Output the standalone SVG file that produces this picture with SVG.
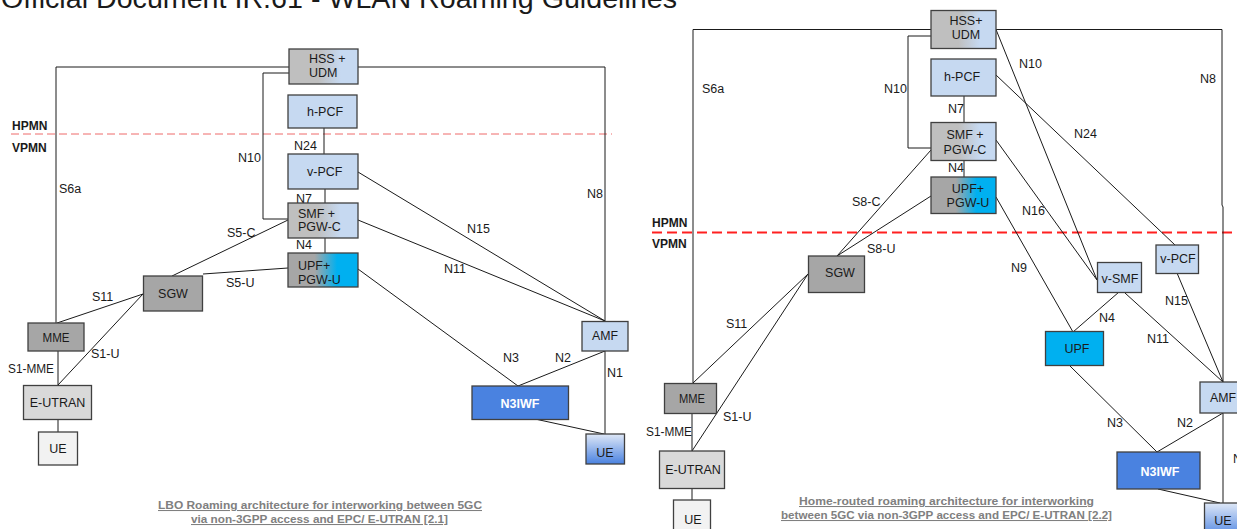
<svg xmlns="http://www.w3.org/2000/svg" width="1237" height="529" viewBox="0 0 1237 529">
  <style>
    .ln { fill: none; stroke: #1a1a1a; stroke-width: 1; }
    .box { stroke: #404040; stroke-width: 1.3; }
    .t { font-family: "Liberation Sans", Arial, sans-serif; font-size: 12.5px; fill: #1a1a1a; }
    .c { text-anchor: middle; }
    .lbl { font-family: "Liberation Sans", Arial, sans-serif; font-size: 12.5px; fill: #1a1a1a; }
    .net { font-family: "Liberation Sans", Arial, sans-serif; font-size: 12px; font-weight: bold; fill: #1a1a1a; }
    .wt { font-family: "Liberation Sans", Arial, sans-serif; font-size: 12.5px; font-weight: bold; fill: #ffffff; text-anchor: middle; }
    .cap { font-family: "Liberation Sans", Arial, sans-serif; font-size: 10.5px; font-weight: bold; fill: #808080; text-decoration: underline; }
    .grey { fill: #a6a6a6; }
    .lgrey { fill: #d9d9d9; }
    .vlgrey { fill: #f2f2f2; }
    .blue { fill: #c6d9f1; }
    .cyan { fill: #00b0f0; }
    .n3 { fill: #4a82e0; }
  </style>
  <defs>
    <linearGradient id="gGreyBlue" x1="0" y1="0" x2="1" y2="0">
      <stop offset="0" stop-color="#bfbfbf"/>
      <stop offset="0.42" stop-color="#bfbfbf"/>
      <stop offset="0.75" stop-color="#c6d9f1"/>
      <stop offset="1" stop-color="#c6d9f1"/>
    </linearGradient>
    <linearGradient id="gGreyCyan" x1="0" y1="0" x2="1" y2="0">
      <stop offset="0" stop-color="#a6a6a6"/>
      <stop offset="0.38" stop-color="#a6a6a6"/>
      <stop offset="0.7" stop-color="#00b0f0"/>
      <stop offset="1" stop-color="#00b0f0"/>
    </linearGradient>
    <linearGradient id="gUE" x1="0" y1="0" x2="0" y2="1">
      <stop offset="0" stop-color="#dfe8f7"/>
      <stop offset="1" stop-color="#4a82e0"/>
    </linearGradient>
  </defs>

  <rect width="1237" height="529" fill="#ffffff"/>

  <!-- page heading, mostly above the top edge -->
  <text x="1" y="8" font-family="Liberation Sans, Arial, sans-serif" font-size="28" fill="#1a1a1a" textLength="676" lengthAdjust="spacingAndGlyphs">Official Document IR.61 - WLAN Roaming Guidelines</text>

  <!-- network boundaries -->
  <g id="boundaries">
    <line x1="11" y1="134" x2="612" y2="134" stroke="#ee6a6a" stroke-width="1" stroke-dasharray="8 4"/>
    <text class="net" x="12" y="130">HPMN</text>
    <text class="net" x="12" y="152">VPMN</text>
    <line x1="652" y1="232.5" x2="1237" y2="232.5" stroke="#ff2020" stroke-width="2" stroke-dasharray="10 5"/>
    <text class="net" x="652" y="227">HPMN</text>
    <text class="net" x="652" y="248">VPMN</text>
  </g>

  <g id="connectors">
    <!-- LBO roaming -->
    <polyline class="ln" points="289,67 56,67 56,323"/>
    <polyline class="ln" points="358,67 605,67 605,321"/>
    <polyline class="ln" points="289,73 263,73 263,219 288,219"/>
    <line class="ln" x1="324" y1="128" x2="324" y2="154"/>
    <line class="ln" x1="325" y1="189" x2="325" y2="203"/>
    <line class="ln" x1="325" y1="238" x2="325" y2="253"/>
    <line class="ln" x1="358" y1="172" x2="605" y2="321"/>
    <line class="ln" x1="358" y1="220" x2="605" y2="321"/>
    <line class="ln" x1="358" y1="269" x2="518" y2="386"/>
    <line class="ln" x1="288" y1="220" x2="172" y2="276"/>
    <line class="ln" x1="288" y1="268" x2="203" y2="274"/>
    <line class="ln" x1="57" y1="323" x2="143" y2="294"/>
    <line class="ln" x1="58" y1="385" x2="143" y2="294"/>
    <line class="ln" x1="58" y1="351" x2="58" y2="385"/>
    <line class="ln" x1="58" y1="419" x2="58" y2="432"/>
    <line class="ln" x1="605" y1="351" x2="518" y2="386"/>
    <line class="ln" x1="605" y1="351" x2="605" y2="434"/>
    <line class="ln" x1="535" y1="419" x2="604" y2="434"/>

    <text class="lbl" x="59" y="193">S6a</text>
    <text class="lbl" x="238" y="162">N10</text>
    <text class="lbl" x="294" y="150">N24</text>
    <text class="lbl" x="296" y="203">N7</text>
    <text class="lbl" x="296" y="249">N4</text>
    <text class="lbl" x="227" y="237">S5-C</text>
    <text class="lbl" x="226" y="287">S5-U</text>
    <text class="lbl" x="467" y="233">N15</text>
    <text class="lbl" x="444" y="273">N11</text>
    <text class="lbl" x="587" y="198">N8</text>
    <text class="lbl" x="92" y="301">S11</text>
    <text class="lbl" x="91" y="358">S1-U</text>
    <text class="lbl" x="8" y="373" textLength="46" lengthAdjust="spacingAndGlyphs">S1-MME</text>
    <text class="lbl" x="503" y="362">N3</text>
    <text class="lbl" x="555" y="362">N2</text>
    <text class="lbl" x="607" y="377">N1</text>

    <!-- home-routed roaming -->
    <polyline class="ln" points="931,29.5 693,29.5 693,383"/>
    <polyline class="ln" points="996,29.5 1222,29.5 1222,205 1223,207 1223,382"/>
    <polyline class="ln" points="931,36 908,36 908,148 931,148"/>
    <line class="ln" x1="964" y1="96" x2="964" y2="122"/>
    <line class="ln" x1="964" y1="161" x2="964" y2="177"/>
    <line class="ln" x1="996" y1="29.5" x2="1097" y2="280"/>
    <line class="ln" x1="996" y1="75" x2="1175" y2="245"/>
    <line class="ln" x1="996" y1="140" x2="1097" y2="280"/>
    <line class="ln" x1="996" y1="197" x2="1073" y2="332"/>
    <line class="ln" x1="931" y1="150" x2="837" y2="256"/>
    <line class="ln" x1="931" y1="196" x2="837" y2="256"/>
    <line class="ln" x1="808" y1="274" x2="693" y2="383"/>
    <line class="ln" x1="808" y1="274" x2="692" y2="451"/>
    <line class="ln" x1="692" y1="413" x2="692" y2="451"/>
    <line class="ln" x1="692" y1="489" x2="692" y2="500"/>
    <line class="ln" x1="1119" y1="292" x2="1073" y2="332"/>
    <line class="ln" x1="1125" y1="293" x2="1223" y2="382"/>
    <line class="ln" x1="1177" y1="273" x2="1223" y2="382"/>
    <line class="ln" x1="1070" y1="366" x2="1157" y2="452"/>
    <line class="ln" x1="1223" y1="413" x2="1157" y2="452"/>
    <line class="ln" x1="1223" y1="413" x2="1223" y2="503"/>
    <line class="ln" x1="1158" y1="489" x2="1220" y2="503"/>

    <text class="lbl" x="702" y="93">S6a</text>
    <text class="lbl" x="884" y="93">N10</text>
    <text class="lbl" x="1019" y="68">N10</text>
    <text class="lbl" x="1200" y="83">N8</text>
    <text class="lbl" x="948" y="113">N7</text>
    <text class="lbl" x="1074" y="138">N24</text>
    <text class="lbl" x="948" y="172">N4</text>
    <text class="lbl" x="1022" y="215">N16</text>
    <text class="lbl" x="852" y="206">S8-C</text>
    <text class="lbl" x="867" y="253">S8-U</text>
    <text class="lbl" x="1011" y="272">N9</text>
    <text class="lbl" x="726" y="328">S11</text>
    <text class="lbl" x="723" y="421">S1-U</text>
    <text class="lbl" x="646" y="436" textLength="46" lengthAdjust="spacingAndGlyphs">S1-MME</text>
    <text class="lbl" x="1099" y="322">N4</text>
    <text class="lbl" x="1147" y="343">N11</text>
    <text class="lbl" x="1165" y="305">N15</text>
    <text class="lbl" x="1107" y="427">N3</text>
    <text class="lbl" x="1177" y="427">N2</text>
    <text class="lbl" x="1233" y="463">N1</text>
  </g>

  <!-- LBO roaming nodes -->
  <g id="lbo-hss-udm">
    <rect class="box" x="289" y="49" width="69" height="35" fill="url(#gGreyBlue)"/>
    <text class="t" x="309" y="63">HSS +</text>
    <text class="t" x="309" y="77">UDM</text>
  </g>
  <g id="lbo-h-pcf">
    <rect class="box blue" x="288" y="95" width="69" height="33"/>
    <text class="t" x="307" y="116">h-PCF</text>
  </g>
  <g id="lbo-v-pcf">
    <rect class="box blue" x="288" y="154" width="70" height="35"/>
    <text class="t" x="307" y="176">v-PCF</text>
  </g>
  <g id="lbo-smf-pgwc">
    <rect class="box" x="288" y="203" width="70" height="35" fill="url(#gGreyBlue)"/>
    <text class="t" x="298" y="218">SMF +</text>
    <text class="t" x="298" y="231">PGW-C</text>
  </g>
  <g id="lbo-upf-pgwu">
    <rect class="box" x="288" y="253" width="70" height="34" fill="url(#gGreyCyan)"/>
    <text class="t" x="298" y="270">UPF+</text>
    <text class="t" x="298" y="284">PGW-U</text>
  </g>
  <g id="lbo-sgw">
    <rect class="box grey" x="143.5" y="276" width="59" height="35"/>
    <text class="t c" x="173" y="298">SGW</text>
  </g>
  <g id="lbo-mme">
    <rect class="box grey" x="28" y="323" width="56" height="28"/>
    <text class="t c" x="56" y="342" textLength="27" lengthAdjust="spacingAndGlyphs">MME</text>
  </g>
  <g id="lbo-eutran">
    <rect class="box lgrey" x="23.5" y="385.5" width="68" height="34"/>
    <text class="t c" x="57.5" y="407">E-UTRAN</text>
  </g>
  <g id="lbo-ue-lte">
    <rect class="box vlgrey" x="38.5" y="432" width="39" height="33"/>
    <text class="t c" x="58" y="453">UE</text>
  </g>
  <g id="lbo-amf">
    <rect class="box blue" x="582" y="321.5" width="46" height="29.5"/>
    <text class="t c" x="605" y="340" textLength="26" lengthAdjust="spacingAndGlyphs">AMF</text>
  </g>
  <g id="lbo-n3iwf">
    <rect class="box n3" x="472" y="386" width="96.5" height="33.5"/>
    <text class="wt" x="520" y="408">N3IWF</text>
  </g>
  <g id="lbo-ue-5g">
    <rect class="box" x="586" y="434" width="38.5" height="30" fill="url(#gUE)"/>
    <text class="t c" x="605" y="457">UE</text>
  </g>

  <!-- home-routed roaming nodes -->
  <g id="hr-hss-udm">
    <rect class="box" x="931" y="10.5" width="65" height="38" fill="url(#gGreyBlue)"/>
    <text class="t c" x="966" y="25">HSS+</text>
    <text class="t c" x="966" y="39">UDM</text>
  </g>
  <g id="hr-h-pcf">
    <rect class="box blue" x="931" y="59" width="65" height="37"/>
    <text class="t c" x="962" y="81">h-PCF</text>
  </g>
  <g id="hr-smf-pgwc">
    <rect class="box" x="931" y="122.5" width="65" height="38" fill="url(#gGreyBlue)"/>
    <text class="t c" x="965" y="139">SMF +</text>
    <text class="t c" x="965" y="154">PGW-C</text>
  </g>
  <g id="hr-upf-pgwu">
    <rect class="box" x="931" y="177" width="65" height="36.5" fill="url(#gGreyCyan)"/>
    <text class="t c" x="968" y="193">UPF+</text>
    <text class="t c" x="968" y="207">PGW-U</text>
  </g>
  <g id="hr-sgw">
    <rect class="box grey" x="808.5" y="256" width="56" height="36.5"/>
    <text class="t c" x="840" y="277">SGW</text>
  </g>
  <g id="hr-mme">
    <rect class="box grey" x="664.5" y="383.5" width="52" height="30"/>
    <text class="t c" x="692" y="403" textLength="26" lengthAdjust="spacingAndGlyphs">MME</text>
  </g>
  <g id="hr-eutran">
    <rect class="box lgrey" x="659.5" y="451" width="65" height="37.5"/>
    <text class="t c" x="693" y="474">E-UTRAN</text>
  </g>
  <g id="hr-ue-lte">
    <rect class="box vlgrey" x="673.5" y="500" width="37" height="35"/>
    <text class="t c" x="693" y="524">UE</text>
  </g>
  <g id="hr-v-smf">
    <rect class="box blue" x="1097.5" y="262.5" width="44" height="30"/>
    <text class="t c" x="1120" y="283">v-SMF</text>
  </g>
  <g id="hr-v-pcf">
    <rect class="box blue" x="1156" y="245" width="42.5" height="28.5"/>
    <text class="t c" x="1178" y="263">v-PCF</text>
  </g>
  <g id="hr-upf">
    <rect class="box cyan" x="1045.5" y="331.5" width="58" height="34"/>
    <text class="t c" x="1077" y="353">UPF</text>
  </g>
  <g id="hr-amf">
    <rect class="box blue" x="1200" y="382" width="46" height="31"/>
    <text class="t c" x="1223" y="402" textLength="26" lengthAdjust="spacingAndGlyphs">AMF</text>
  </g>
  <g id="hr-n3iwf">
    <rect class="box n3" x="1117" y="452" width="83" height="37"/>
    <text class="wt" x="1160" y="476">N3IWF</text>
  </g>
  <g id="hr-ue-5g">
    <rect class="box" x="1204.5" y="503" width="39" height="35" fill="url(#gUE)"/>
    <text class="t c" x="1223" y="525">UE</text>
  </g>

  <!-- figure captions -->
  <g id="captions">
    <text class="cap" x="158" y="509" textLength="324" lengthAdjust="spacingAndGlyphs">LBO Roaming architecture for interworking between 5GC</text>
    <text class="cap" x="191" y="523" textLength="257" lengthAdjust="spacingAndGlyphs">via non-3GPP access and EPC/ E-UTRAN [2.1]</text>
    <text class="cap" x="799" y="505" textLength="295" lengthAdjust="spacingAndGlyphs">Home-routed roaming architecture for interworking</text>
    <text class="cap" x="781" y="519" textLength="331" lengthAdjust="spacingAndGlyphs">between 5GC via non-3GPP access and EPC/ E-UTRAN [2.2]</text>
  </g>
</svg>
